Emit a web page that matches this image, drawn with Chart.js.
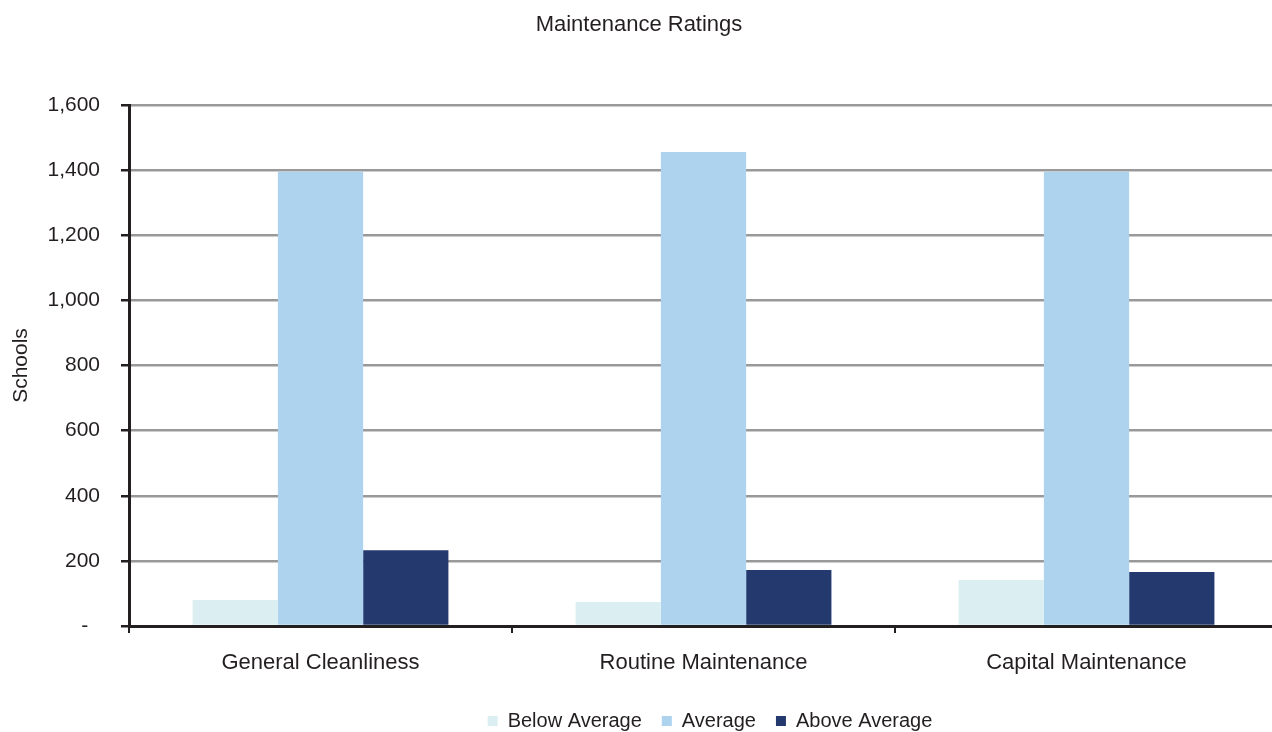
<!DOCTYPE html>
<html>
<head>
<meta charset="utf-8">
<script src="https://cdn.jsdelivr.net/npm/chart.js@4"></script>
<style>
  html, body { margin: 0; padding: 0; overflow: hidden; background: #fff; }
  canvas { display: block; }
</style>
</head>
<body>
<canvas id="myChart" width="1280" height="741"></canvas>
<script>
const categories = ['General Cleanliness', 'Routine Maintenance', 'Capital Maintenance'];
const belowAverage = [80, 74, 141];
const average = [1395, 1456, 1395];
const aboveAverage = [233, 172, 166];
const yTicks = [0, 200, 400, 600, 800, 1000, 1200, 1400, 1600];

const textColor = '#231f20';
const family = '"Liberation Sans", Arial, sans-serif';

const ctx = document.getElementById('myChart').getContext('2d');

// legend in the original sits a bit right of centre
const shiftLegend = {
  id: 'shiftLegend',
  beforeDraw(chart) {
    const lg = chart.legend;
    if (lg && !lg._shifted) {
      lg.left += 71;
      lg.right += 71;
      lg._shifted = true;
    }
  }
};

new Chart(ctx, {
  type: 'bar',
  data: {
    labels: categories,
    datasets: [
      { label: 'Below Average', data: belowAverage, backgroundColor: '#dbeff2' },
      { label: 'Average', data: average, backgroundColor: '#add3ef' },
      { label: 'Above Average', data: aboveAverage, backgroundColor: '#243a6e' }
    ]
  },
  plugins: [shiftLegend],
  options: {
    responsive: false,
    animation: false,
    devicePixelRatio: 1,
    categoryPercentage: 0.668,
    barPercentage: 1,
    layout: { padding: { left: 0, right: 2, top: 0, bottom: 0 } },
    plugins: {
      title: {
        display: true,
        text: 'Maintenance Ratings',
        color: textColor,
        font: { family: family, size: 22, weight: 'normal' },
        padding: { top: 12, bottom: 66.6 }
      },
      legend: {
        position: 'bottom',
        labels: {
          color: textColor,
          font: { family: family, size: 20 },
          boxWidth: 10,
          boxHeight: 10,
          padding: 20
        }
      },
      tooltip: { enabled: false }
    },
    scales: {
      x: {
        grid: {
          display: true,
          drawOnChartArea: false,
          drawTicks: true,
          tickLength: 7,
          tickColor: textColor,
          lineWidth: 2
        },
        border: { color: textColor, width: 3 },
        ticks: { color: textColor, font: { family: family, size: 22 }, padding: 17 },
        afterFit: function(scale) { scale.height = 65; }
      },
      y: {
        min: 0,
        max: 1600,
        afterBuildTicks: function(scale) {
          scale.ticks = yTicks.map(v => ({ value: v }));
        },
        grid: {
          color: '#999999',
          lineWidth: 2.5,
          tickLength: 8,
          tickColor: textColor
        },
        border: { color: textColor, width: 3 },
        ticks: {
          color: textColor,
          font: { family: family, size: 21 },
          padding: 21,
          callback: function(value) {
            return value === 0 ? '-  ' : value.toLocaleString('en-US'); // zero shown as dash
          }
        },
        title: {
          display: true,
          text: 'Schools',
          color: textColor,
          font: { family: family, size: 21 },
          padding: { top: 9, bottom: 0 }
        },
        afterFit: function(scale) { scale.width = 129; }
      }
    }
  }
});
</script>
</body>
</html>
